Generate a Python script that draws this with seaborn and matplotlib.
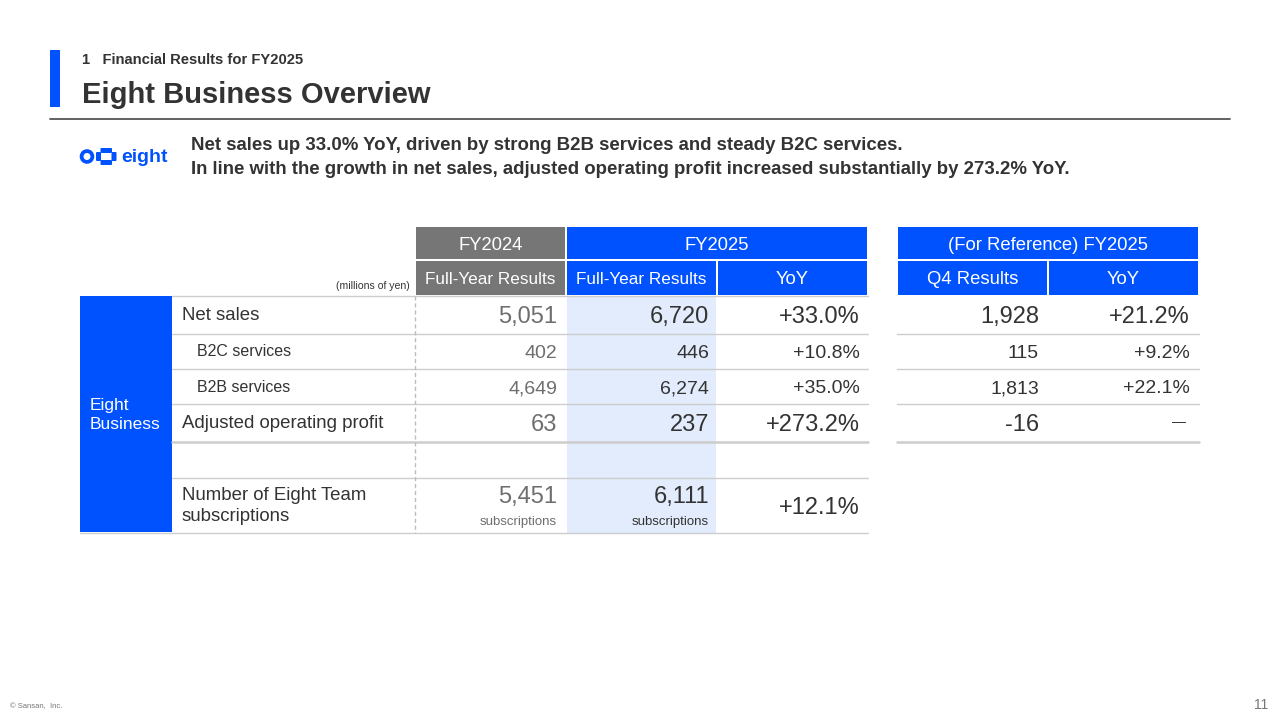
import matplotlib
matplotlib.use("Agg")
import matplotlib.pyplot as plt
from matplotlib.patches import Rectangle, Circle, FancyBboxPatch
import seaborn as sns

# ---------------- data ----------------
section_label = "1   Financial Results for FY2025"
title = "Eight Business Overview"
headline = [
    "Net sales up 33.0% YoY, driven by strong B2B services and steady B2C services.",
    "In line with the growth in net sales, adjusted operating profit increased substantially by 273.2% YoY.",
]
group_label = "Eight\nBusiness"
unit_label = "(millions of yen)"
header_top = ["FY2024", "FY2025", "(For Reference) FY2025"]
header_sub = ["Full-Year Results", "Full-Year Results", "YoY", "Q4 Results", "YoY"]
row_labels = ["Net sales", "B2C services", "B2B services", "Adjusted operating profit", "",
              "Number of Eight Team\nsubscriptions"]
row_is_sub = [False, True, True, False, False, False]
fy2024 = [5051, 402, 4649, 63, None, 5451]
fy2025 = [6720, 446, 6274, 237, None, 6111]
yoy_fy = ["+33.0%", "+10.8%", "+35.0%", "+273.2%", None, "+12.1%"]
value_units = [None, None, None, None, None, "subscriptions"]
q4_results = [1928, 115, 1813, -16]
q4_yoy = ["+21.2%", "+9.2%", "+22.1%", "\u2014"]
footer_left = "\u00a9 Sansan,  Inc."
page_no = "11"

# ---------------- style ----------------
sns.set_theme(style="white")
plt.rcParams["font.family"] = ["Liberation Sans", "DejaVu Sans"]

BLUE = "#0052FF"
GRAY_HDR = "#767676"
LIGHT = "#E3ECFC"
LINE = "#CDCDCD"
TEXT = "#333333"
TEXT24 = "#6E6E6E"

fig = plt.figure(figsize=(12.8, 7.2), dpi=100)
ax = fig.add_axes([0, 0, 1, 1])
ax.set_xlim(0, 1280)
ax.set_ylim(720, 0)
ax.axis("off")

# ---------------- header ----------------
ax.add_patch(Rectangle((50, 50), 10, 57, color=BLUE, lw=0))
ax.text(82, 60, section_label, fontsize=10.6, color=TEXT, va="center", ha="left", fontweight="semibold")
ax.text(82, 95, title, fontsize=21, color=TEXT, va="center", ha="left", fontweight="bold")
ax.plot([50, 1230], [119, 119], color="#555555", lw=1.3)

# logo
ax.add_patch(Circle((87, 156.5), 5.4, fill=False, ec=BLUE, lw=2.7))
for (x, y, w, h) in [(100.5, 148, 11.5, 5), (100.5, 160, 11.5, 5), (96, 152, 5, 9), (111.5, 152, 5, 9)]:
    ax.add_patch(FancyBboxPatch((x, y), w, h, boxstyle="round,pad=0,rounding_size=1.0", color=BLUE, lw=0))
ax.text(121, 157, "eight", fontsize=14, color=BLUE, va="center", ha="left", fontweight="bold")

for i, line in enumerate(headline):
    ax.text(191, 146 + 23 * i, line, fontsize=13.4, color=TEXT, va="center", ha="left", fontweight="bold")

# ---------------- table layout ----------------
hdr_y = [227, 261, 295]
row_edges = [296, 334, 369, 404, 442, 478, 533]
lab_x0, lab_x1 = 172, 415
main_cols = [415, 566, 717, 868]
ref_cols = [897, 1048, 1199]
gap = 1.0

# header top row
top_spans = [(main_cols[0], main_cols[1], GRAY_HDR), (main_cols[1], main_cols[3], BLUE), (ref_cols[0], ref_cols[2], BLUE)]
for (x0, x1, c), txt in zip(top_spans, header_top):
    ax.add_patch(Rectangle((x0 + gap, hdr_y[0]), x1 - x0 - 2 * gap, hdr_y[1] - hdr_y[0] - 2 * gap, color=c, lw=0))
    ax.text((x0 + x1) / 2, (hdr_y[0] + hdr_y[1]) / 2 + 1, txt, fontsize=13.3, color="white", ha="center", va="center")

sub_spans = [(main_cols[0], main_cols[1], GRAY_HDR), (main_cols[1], main_cols[2], BLUE),
             (main_cols[2], main_cols[3], BLUE), (ref_cols[0], ref_cols[1], BLUE), (ref_cols[1], ref_cols[2], BLUE)]
for k, ((x0, x1, c), txt) in enumerate(zip(sub_spans, header_sub)):
    ax.add_patch(Rectangle((x0 + gap, hdr_y[1]), x1 - x0 - 2 * gap, hdr_y[2] - hdr_y[1], color=c, lw=0))
    fs = 12.3 if "Full" in txt else 13.3
    ax.text((x0 + x1) / 2, (hdr_y[1] + hdr_y[2]) / 2 + 1.5, txt, fontsize=fs, color="white", ha="center", va="center")

ax.text(main_cols[0] - 5, 286, unit_label, fontsize=7.6, color=TEXT, ha="right", va="center")

# light blue FY2025 column
ax.add_patch(Rectangle((main_cols[1] + gap, row_edges[0]), main_cols[2] - main_cols[1] - 2 * gap,
                       row_edges[-1] - row_edges[0], color=LIGHT, lw=0))

# left group box
ax.add_patch(Rectangle((80, row_edges[0]), lab_x0 - 80, row_edges[-1] - row_edges[0] - 1, color=BLUE, lw=0))
ax.text(90, 415, group_label, fontsize=12.5, color="white", ha="left", va="center", linespacing=1.3)

# horizontal lines
for i, y in enumerate(row_edges):
    lw = 1.8 if y == row_edges[4] else 1.0
    x_start = 80 if i == len(row_edges) - 1 else lab_x0
    ax.plot([x_start, main_cols[-1]], [y, y], color=LINE, lw=lw, zorder=1)
for y in row_edges[1:5]:
    lw = 1.8 if y == row_edges[4] else 1.0
    ax.plot([ref_cols[0], ref_cols[-1]], [y, y], color=LINE, lw=lw, zorder=1)

# dashed separator
ax.plot([lab_x1, lab_x1], [row_edges[0], row_edges[-1]], color="#BDBDBD", lw=1.0, ls=(0, (3, 2)))

# rows
def fmt(v):
    return f"{v:,}"

for r, lab in enumerate(row_labels):
    yc = (row_edges[r] + row_edges[r + 1]) / 2
    big = not row_is_sub[r]
    if lab:
        ax.text(197 if row_is_sub[r] else 182, yc + 0.5, lab, fontsize=11.5 if row_is_sub[r] else 13.4,
                color=TEXT, ha="left", va="center", linespacing=1.38)
    vfs = 17 if big else 14
    unit = value_units[r]
    y_val = yc - 8 if unit else yc + 2
    if fy2024[r] is not None:
        ax.text(main_cols[1] - 9, y_val, fmt(fy2024[r]), fontsize=vfs, color=TEXT24, ha="right", va="center")
        if unit:
            ax.text(main_cols[1] - 9, yc + 16, unit, fontsize=9.5, color=TEXT24, ha="right", va="center")
    if fy2025[r] is not None:
        ax.text(main_cols[2] - 8, y_val, fmt(fy2025[r]), fontsize=vfs, color=TEXT, ha="right", va="center")
        if unit:
            ax.text(main_cols[2] - 8, yc + 16, unit, fontsize=9.5, color=TEXT, ha="right", va="center")
    if yoy_fy[r] is not None:
        ax.text(main_cols[3] - 8, yc + 3 if unit else yc + 2, yoy_fy[r], fontsize=vfs, color=TEXT, ha="right", va="center")
    if r < len(q4_results):
        ax.text(ref_cols[1] - 9, yc + 2, fmt(q4_results[r]), fontsize=vfs, color=TEXT, ha="right", va="center")
        is_dash = q4_yoy[r] == "\u2014"
        ax.text(ref_cols[2] - (13 if is_dash else 9), yc - 1 if is_dash else yc + 2, q4_yoy[r],
                fontsize=10 if is_dash else vfs, color=TEXT, ha="right", va="center")

# footer
ax.text(10, 707, footer_left, fontsize=5.5, color="#777777", ha="left", va="center")
ax.text(1268, 705, page_no, fontsize=10, color="#777777", ha="right", va="center")

fig.savefig("out.png", dpi=100, facecolor="white")
